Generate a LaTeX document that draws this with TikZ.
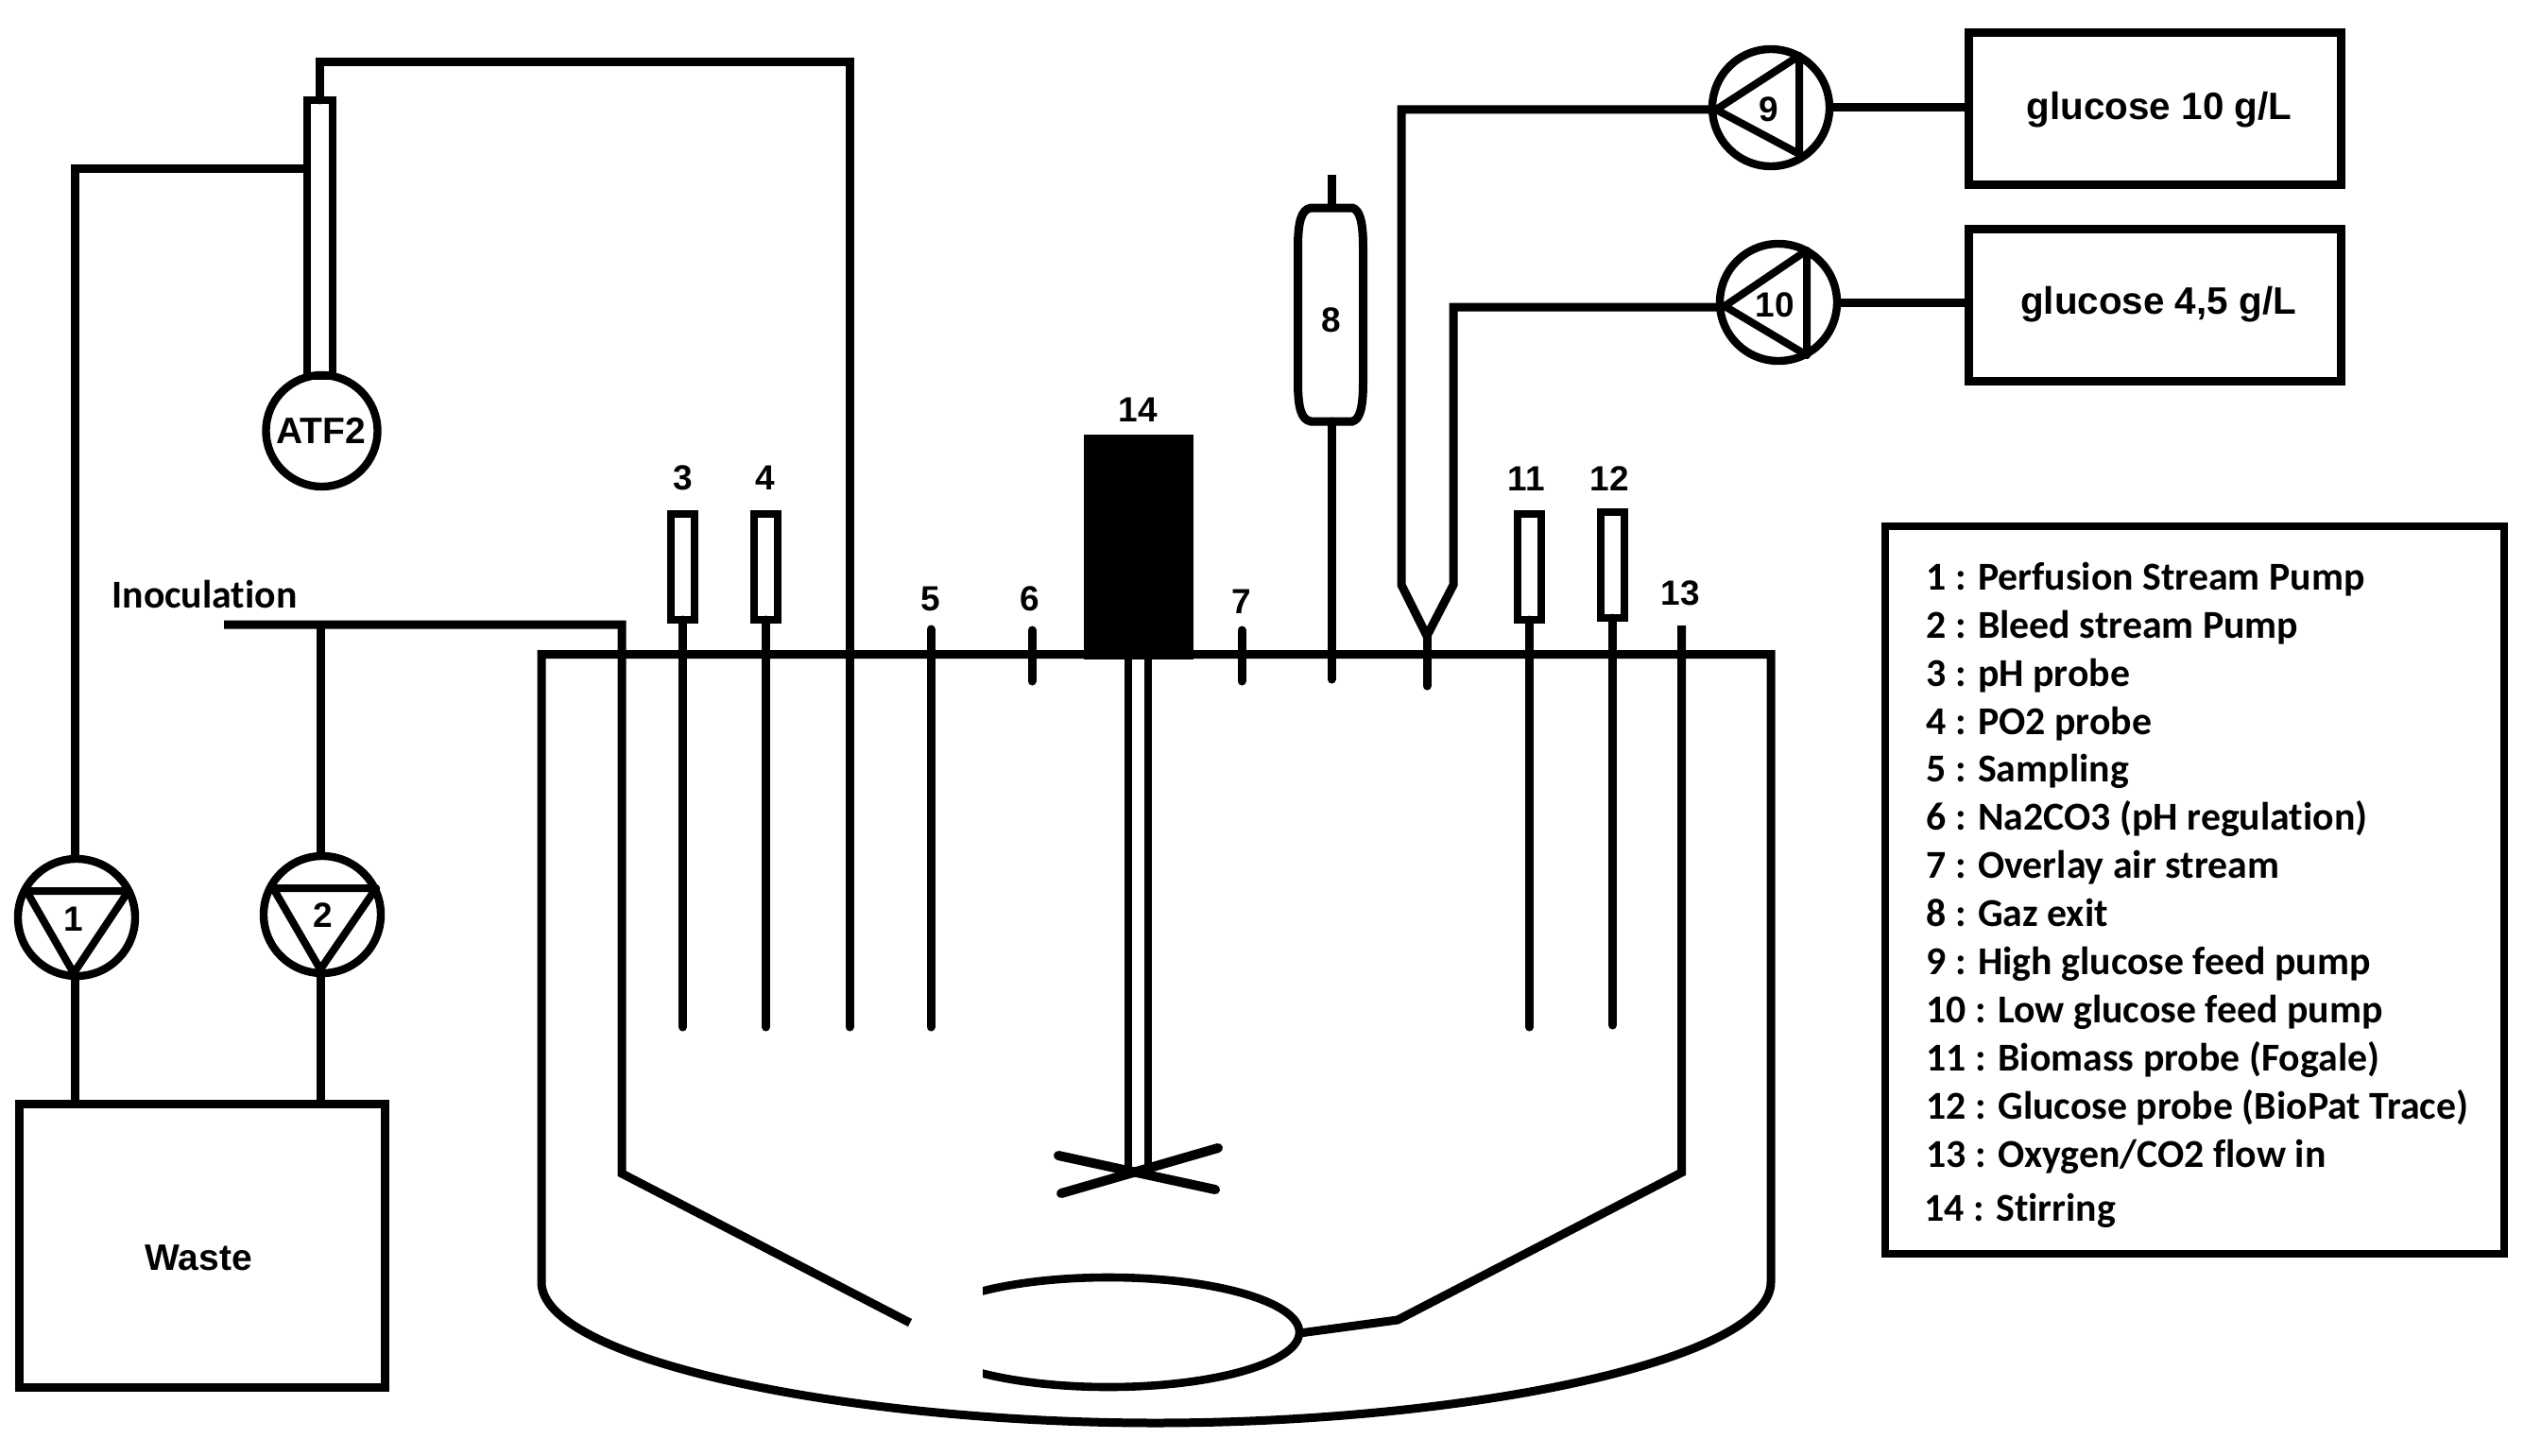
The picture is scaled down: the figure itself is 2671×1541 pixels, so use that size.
\documentclass[tikz,border=0pt]{standalone}
\usepackage{fontspec}
\setmainfont{Liberation Sans}
\newfontfamily\legendfont[Ligatures=NoCommon]{Carlito}
\tikzset{
  ln/.style={draw=black,line width=4.5pt,line join=miter},
  dip/.style={ln,line cap=round},
  pump/.style={circle,draw=black,line width=4.2pt,minimum size=62pt,inner sep=0pt,outer sep=0pt},
  tri/.style={draw=black,line width=4pt,line join=round},
  probe/.style={rectangle,draw=black,line width=4pt,minimum width=12.5pt,minimum height=56pt,inner sep=0pt,outer sep=0pt},
  tank/.style={rectangle,draw=black,line width=4.5pt,inner sep=0pt,outer sep=0pt},
  num/.style={inner sep=0pt,font=\fontsize{18.5}{19}\selectfont\bfseries},
  word/.style={inner sep=0pt,font=\fontsize{19.5}{20}\selectfont\bfseries},
  gluc/.style={inner sep=0pt,anchor=base,font=\fontsize{20.2}{21}\selectfont\bfseries},
  legend/.style={inner sep=0pt,anchor=base west,font=\legendfont\fontsize{20.9}{22}\selectfont\bfseries},
}
\begin{document}
\begin{tikzpicture}[x=0.5pt,y=-0.5pt]
\useasboundingbox (0,0) rectangle (2671,1541);
% --- nodes: pumps
\node[pump] (p1) at (81,971) {};
\node[pump] (p2) at (341,968) {};
\node[pump] (p9) at (1874,114) {};
\node[pump] (p10) at (1882,320) {};
\node[pump,minimum size=59pt] (atf) at (340.5,456) {};
\node[word] (atft) at (340,456) {ATF2};
% --- ATF tube
\node[rectangle,draw=black,line width=4pt,minimum width=13.5pt,minimum height=146pt,inner sep=0pt,outer sep=0pt] (tube) at (338,252) {};
% --- storage boxes
\node[tank,minimum width=193.5pt,minimum height=150pt] (waste) at (213.5,1318) {};
\node[word] (wastet) at (210,1331) {Waste};
\node[tank,minimum width=197pt,minimum height=80.5pt] (g10) at (2280.5,115) {};
\node[tank,minimum width=197pt,minimum height=80.5pt] (g45) at (2280.5,323) {};
\node[gluc] (g10t) at (2285,126.7) {glucose 10 g/L};
\node[gluc] (g45t) at (2284,332.7) {glucose 4,5 g/L};
% --- probes
\node[probe] (pr3) at (722.5,600) {};
\node[probe] (pr4) at (810.5,600) {};
\node[probe] (pr11) at (1618.5,600) {};
\node[probe] (pr12) at (1706.5,598) {};
% --- vessel
\draw[ln] (573,692.5) -- (573,1357) .. controls (573,1440) and (900,1506) .. (1223,1506)
  .. controls (1550,1506) and (1874,1440) .. (1874,1357) -- (1874,692.5) -- cycle;
% --- stirrer
\node[rectangle,fill=black,inner sep=0pt,outer sep=0pt,minimum width=58pt,minimum height=119pt] (motor) at (1205,578.5) {};
\coordinate (s1) at (1194,1240);
\coordinate (s2) at (1215,1240);
\draw[line width=4pt] (motor.south -| s1) -- (s1);
\draw[line width=4pt] (motor.south -| s2) -- (s2);
\coordinate (b1) at (1120,1223);
\coordinate (b2) at (1286,1259);
\coordinate (b3) at (1123,1263);
\coordinate (b4) at (1289,1215);
\draw[dip,line width=5pt] (b1) -- (b2);
\draw[dip,line width=5pt] (b3) -- (b4);
% --- dip tubes
\coordinate (e3) at (722.5,1087);
\coordinate (e4) at (810.5,1087);
\coordinate (e11) at (1618.5,1087);
\coordinate (e12) at (1706.5,1085);
\draw[dip] (pr3.south) -- (e3);
\draw[dip] (pr4.south) -- (e4);
\draw[dip] (pr11.south) -- (e11);
\draw[dip] (pr12.south) -- (e12);
\coordinate (t5) at (985,666);
\coordinate (e5) at (985,1087);
\draw[dip] (t5) -- (e5);
\coordinate (t6) at (1092,667);
\coordinate (e6) at (1092,721);
\draw[dip] (t6) -- (e6);
\coordinate (t7) at (1314,667);
\coordinate (e7) at (1314,721);
\draw[dip] (t7) -- (e7);
% --- ATF connections
\coordinate (atfc) at (899,66);
\coordinate (atfe) at (899,1087);
\draw[dip] (tube.north) |- (atfc) -- (atfe);
\coordinate (perm) at (324.5,178);
\coordinate (permc) at (79,178);
\draw[ln] (perm) -- (permc) -- (p1.north -| permc);
\coordinate (p1b) at (79,1037);
\draw[ln] (p1b) -- (waste.north -| p1b);
\coordinate (p2b) at (339,1033);
\draw[ln] (p2b) -- (waste.north -| p2b);
% --- inoculation
\coordinate (ina) at (237,661);
\coordinate (inb) at (658,661);
\coordinate (inc) at (658,1242);
\coordinate (ind) at (963,1400);
\draw[ln] (ina) -- (inb) -- (inc) -- (ind);
\coordinate (bt) at (339,661);
\draw[ln] (bt) -- (p2.north -| bt);
% --- gas exit
\coordinate (g8t) at (1409,185);
\coordinate (g8a) at (1409,220);
\coordinate (g8b) at (1409,446);
\coordinate (g8e) at (1409,719);
\draw[ln] (g8t) -- (g8a);
\draw[dip] (g8b) -- (g8e);
\draw[line width=4.5pt] (1387,220) -- (1431,220) .. controls (1439,222) and (1442.5,235) .. (1442.5,262)
  -- (1442.5,404) .. controls (1442.5,432) and (1439,444) .. (1431,446) -- (1387,446)
  .. controls (1377,444) and (1373.5,432) .. (1373.5,404) -- (1373.5,262)
  .. controls (1373.5,235) and (1377,222) .. (1387,220) -- cycle;
% --- glucose inlet
\coordinate (vl) at (1483,116);
\coordinate (vla) at (1483,619);
\coordinate (vr) at (1538,325);
\coordinate (vra) at (1538,619);
\coordinate (vt) at (1510,673);
\coordinate (vb) at (1510,726);
\coordinate (p9l) at (1815,116);
\coordinate (p10l) at (1825,325);
\draw[ln] (p9l) -- (vl) -- (vla) -- (vt) -- (vra) -- (vr) -- (p10l);
\draw[dip] (vt) -- (vb);
% --- pump to box
\draw[ln] (p9.east) -- (g10.west |- p9.east);
\draw[ln] (p10.east) -- (g45.west |- p10.east);
% --- sparger
\begin{scope}
\clip (1040,1300) rectangle (1420,1500);
\coordinate (spc) at (1173,1410);
\draw[line width=4.3pt] (spc) ellipse [x radius=202,y radius=58];
\end{scope}
\coordinate (o2a) at (1779.5,662);
\coordinate (o2b) at (1779.5,1241);
\coordinate (o2c) at (1479,1397);
\coordinate (o2d) at (1375,1411);
\draw[ln] (o2a) -- (o2b) -- (o2c) -- (o2d);
% --- pump triangles
\draw[tri] (28,943) -- (136,943) -- (78,1030) -- cycle;
\draw[tri] (289,940) -- (398,940) -- (339,1026) -- cycle;
\draw[tri] (1816,116) -- (1904,59) -- (1904,163) -- cycle;
\draw[tri] (1825,324) -- (1912,265) -- (1912,376) -- cycle;
% --- labels
\node[num] (l1) at (78,973) {1};
\node[num] (l2) at (342,969) {2};
\node[num] (l3) at (723,506) {3};
\node[num] (l4) at (810,506) {4};
\node[num] (l5) at (985,634) {5};
\node[num] (l6) at (1090,634) {6};
\node[num] (l7) at (1314,637) {7};
\node[num] (l8) at (1409,339) {8};
\node[num] (l9) at (1872,115.5) {9};
\node[num] (l10) at (1878,323) {10};
\node[num] (l11) at (1615,507) {11};
\node[num] (l12) at (1703,507) {12};
\node[num] (l13) at (1778,628) {13};
\node[num] (l14) at (1204,434) {14};
\node[legend] (inoc) at (118,643.5) {Inoculation};
% --- legend
\node[rectangle,draw=black,line width=4pt,inner sep=0pt,outer sep=0pt,minimum width=327.5pt,minimum height=385pt] (legendbox) at (1995,557) [anchor=north west] {};
\node[legend] (t1) at (2038,624.5) {1 : Perfusion Stream Pump};
\node[legend] (t2) at (2038,675.4) {2 : Bleed stream Pump};
\node[legend] (t3) at (2038,726.2) {3 : pH probe};
\node[legend] (t4) at (2038,777) {4 : PO2 probe};
\node[legend] (t5a) at (2038,827.9) {5 : Sampling};
\node[legend] (t6a) at (2038,878.8) {6 : Na2CO3 (pH regulation)};
\node[legend] (t7a) at (2038,929.6) {7 : Overlay air stream};
\node[legend] (t8) at (2038,980.3) {8 : Gaz exit};
\node[legend] (t9) at (2038,1031.3) {9 : High glucose feed pump};
\node[legend] (t10) at (2038,1082) {10 : Low glucose feed pump};
\node[legend] (t11) at (2038,1133) {11 : Biomass probe (Fogale)};
\node[legend] (t12) at (2038,1184) {12 : Glucose probe (BioPat Trace)};
\node[legend] (t13) at (2038,1235) {13 : Oxygen/CO2 flow in};
\node[legend] (t14) at (2036,1292) {14 : Stirring};
\end{tikzpicture}
\end{document}
